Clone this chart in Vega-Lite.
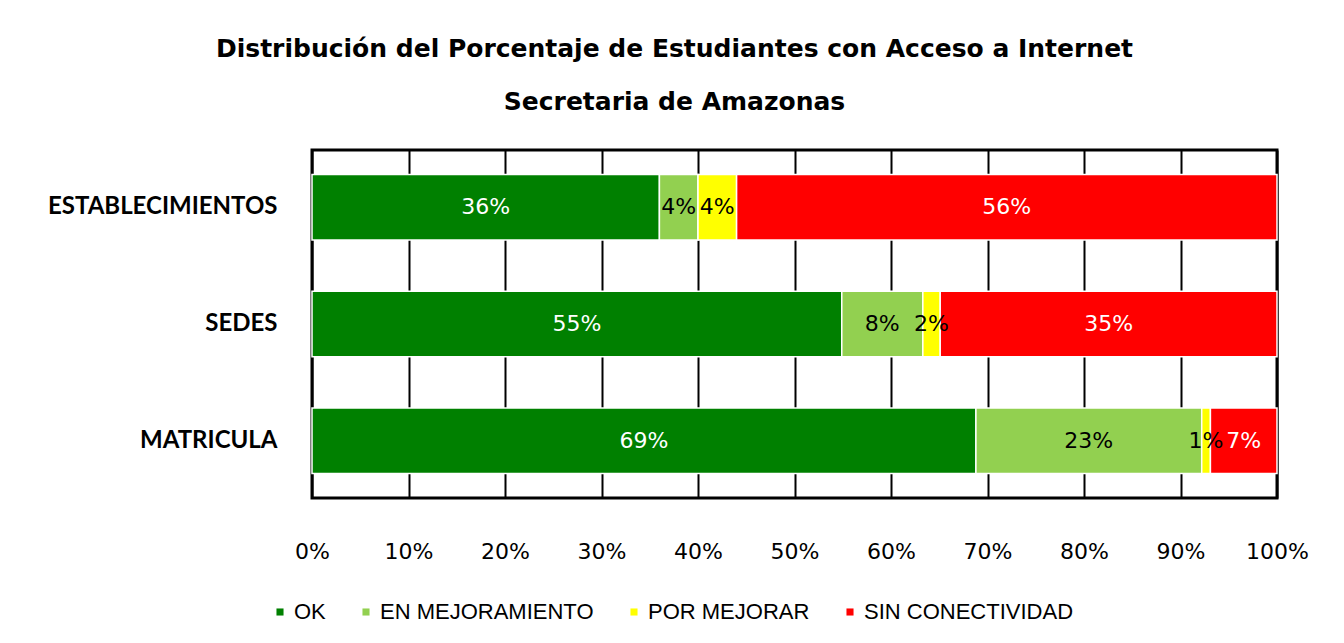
{
  "$schema": "https://vega.github.io/schema/vega-lite/v6.json",
  "width": 965,
  "height": 348,
  "autosize": "none",
  "padding": {"left": 312, "top": 150, "right": 67, "bottom": 145},
  "background": "white",
  "title": {
    "text": ["Distribución del Porcentaje de Estudiantes con Acceso a Internet", "Secretaria de Amazonas"],
    "font": "DejaVu Sans",
    "fontSize": 25,
    "fontWeight": "bold",
    "color": "black",
    "lineHeight": 53,
    "anchor": "middle",
    "dx": -120,
    "offset": 35
  },
  "config": {
    "view": {"stroke": "black", "strokeWidth": 3},
    "axis": {"labelColor": "black"}
  },
  "data": {
    "values": [
      {"cat": "ESTABLECIMIENTOS", "estado": "OK", "orden": 1, "valor": 0.36},
      {"cat": "ESTABLECIMIENTOS", "estado": "EN MEJORAMIENTO", "orden": 2, "valor": 0.04},
      {"cat": "ESTABLECIMIENTOS", "estado": "POR MEJORAR", "orden": 3, "valor": 0.04},
      {"cat": "ESTABLECIMIENTOS", "estado": "SIN CONECTIVIDAD", "orden": 4, "valor": 0.56},
      {"cat": "SEDES", "estado": "OK", "orden": 1, "valor": 0.549},
      {"cat": "SEDES", "estado": "EN MEJORAMIENTO", "orden": 2, "valor": 0.084},
      {"cat": "SEDES", "estado": "POR MEJORAR", "orden": 3, "valor": 0.018},
      {"cat": "SEDES", "estado": "SIN CONECTIVIDAD", "orden": 4, "valor": 0.349},
      {"cat": "MATRICULA", "estado": "OK", "orden": 1, "valor": 0.688},
      {"cat": "MATRICULA", "estado": "EN MEJORAMIENTO", "orden": 2, "valor": 0.234},
      {"cat": "MATRICULA", "estado": "POR MEJORAR", "orden": 3, "valor": 0.009},
      {"cat": "MATRICULA", "estado": "SIN CONECTIVIDAD", "orden": 4, "valor": 0.069}
    ]
  },
  "transform": [
    {"stack": "valor", "groupby": ["cat"], "sort": [{"field": "orden", "order": "ascending"}], "as": ["x0", "x1"]},
    {"calculate": "(datum.x0 + datum.x1) / 2", "as": "xmid"}
  ],
  "encoding": {
    "y": {
      "field": "cat",
      "type": "nominal",
      "sort": ["ESTABLECIMIENTOS", "SEDES", "MATRICULA"],
      "scale": {"paddingInner": 0.44, "paddingOuter": 0.21},
      "axis": {
        "title": null,
        "domain": false,
        "ticks": false,
        "labelFont": "Lato",
        "labelFontWeight": "bold",
        "labelFontSize": 24,
        "labelPadding": 35,
        "labelLimit": 400
      }
    }
  },
  "layer": [
    {
      "mark": {"type": "bar", "stroke": "white", "strokeWidth": 1.5},
      "encoding": {
        "x": {
          "field": "x0",
          "type": "quantitative",
          "scale": {"domain": [0, 1], "nice": false},
          "axis": {
            "title": null,
            "format": ".0%",
            "values": [0, 0.1, 0.2, 0.3, 0.4, 0.5, 0.6, 0.7, 0.8, 0.9, 1],
            "domain": false,
            "ticks": false,
            "grid": true,
            "gridColor": "black",
            "gridWidth": 2,
            "gridOpacity": 1,
            "labelFont": "DejaVu Sans",
            "labelFontSize": 22,
            "labelPadding": 43,
            "labelFlush": false
          }
        },
        "x2": {"field": "x1"},
        "color": {
          "field": "estado",
          "type": "nominal",
          "scale": {
            "domain": ["OK", "EN MEJORAMIENTO", "POR MEJORAR", "SIN CONECTIVIDAD"],
            "range": ["#008000", "#92D050", "#FFFF00", "#FF0000"]
          },
          "legend": {
            "title": null,
            "orient": "none",
            "direction": "horizontal",
            "legendX": -43,
            "legendY": 451,
            "symbolType": "square",
            "symbolSize": 50,
            "symbolStrokeWidth": 0,
            "symbolOpacity": 1,
            "labelFont": "Liberation Sans",
            "labelFontSize": 22,
            "labelColor": "black",
            "labelOffset": 3,
            "columnPadding": 29,
            "labelLimit": 400
          }
        }
      }
    },
    {
      "mark": {"type": "text", "font": "DejaVu Sans", "fontSize": 22, "baseline": "middle", "align": "center"},
      "encoding": {
        "x": {"field": "xmid", "type": "quantitative"},
        "text": {"field": "valor", "type": "quantitative", "format": ".0%"},
        "color": {
          "condition": {"test": "datum.estado === 'OK' || datum.estado === 'SIN CONECTIVIDAD'", "value": "white"},
          "value": "black"
        }
      }
    }
  ]
}
